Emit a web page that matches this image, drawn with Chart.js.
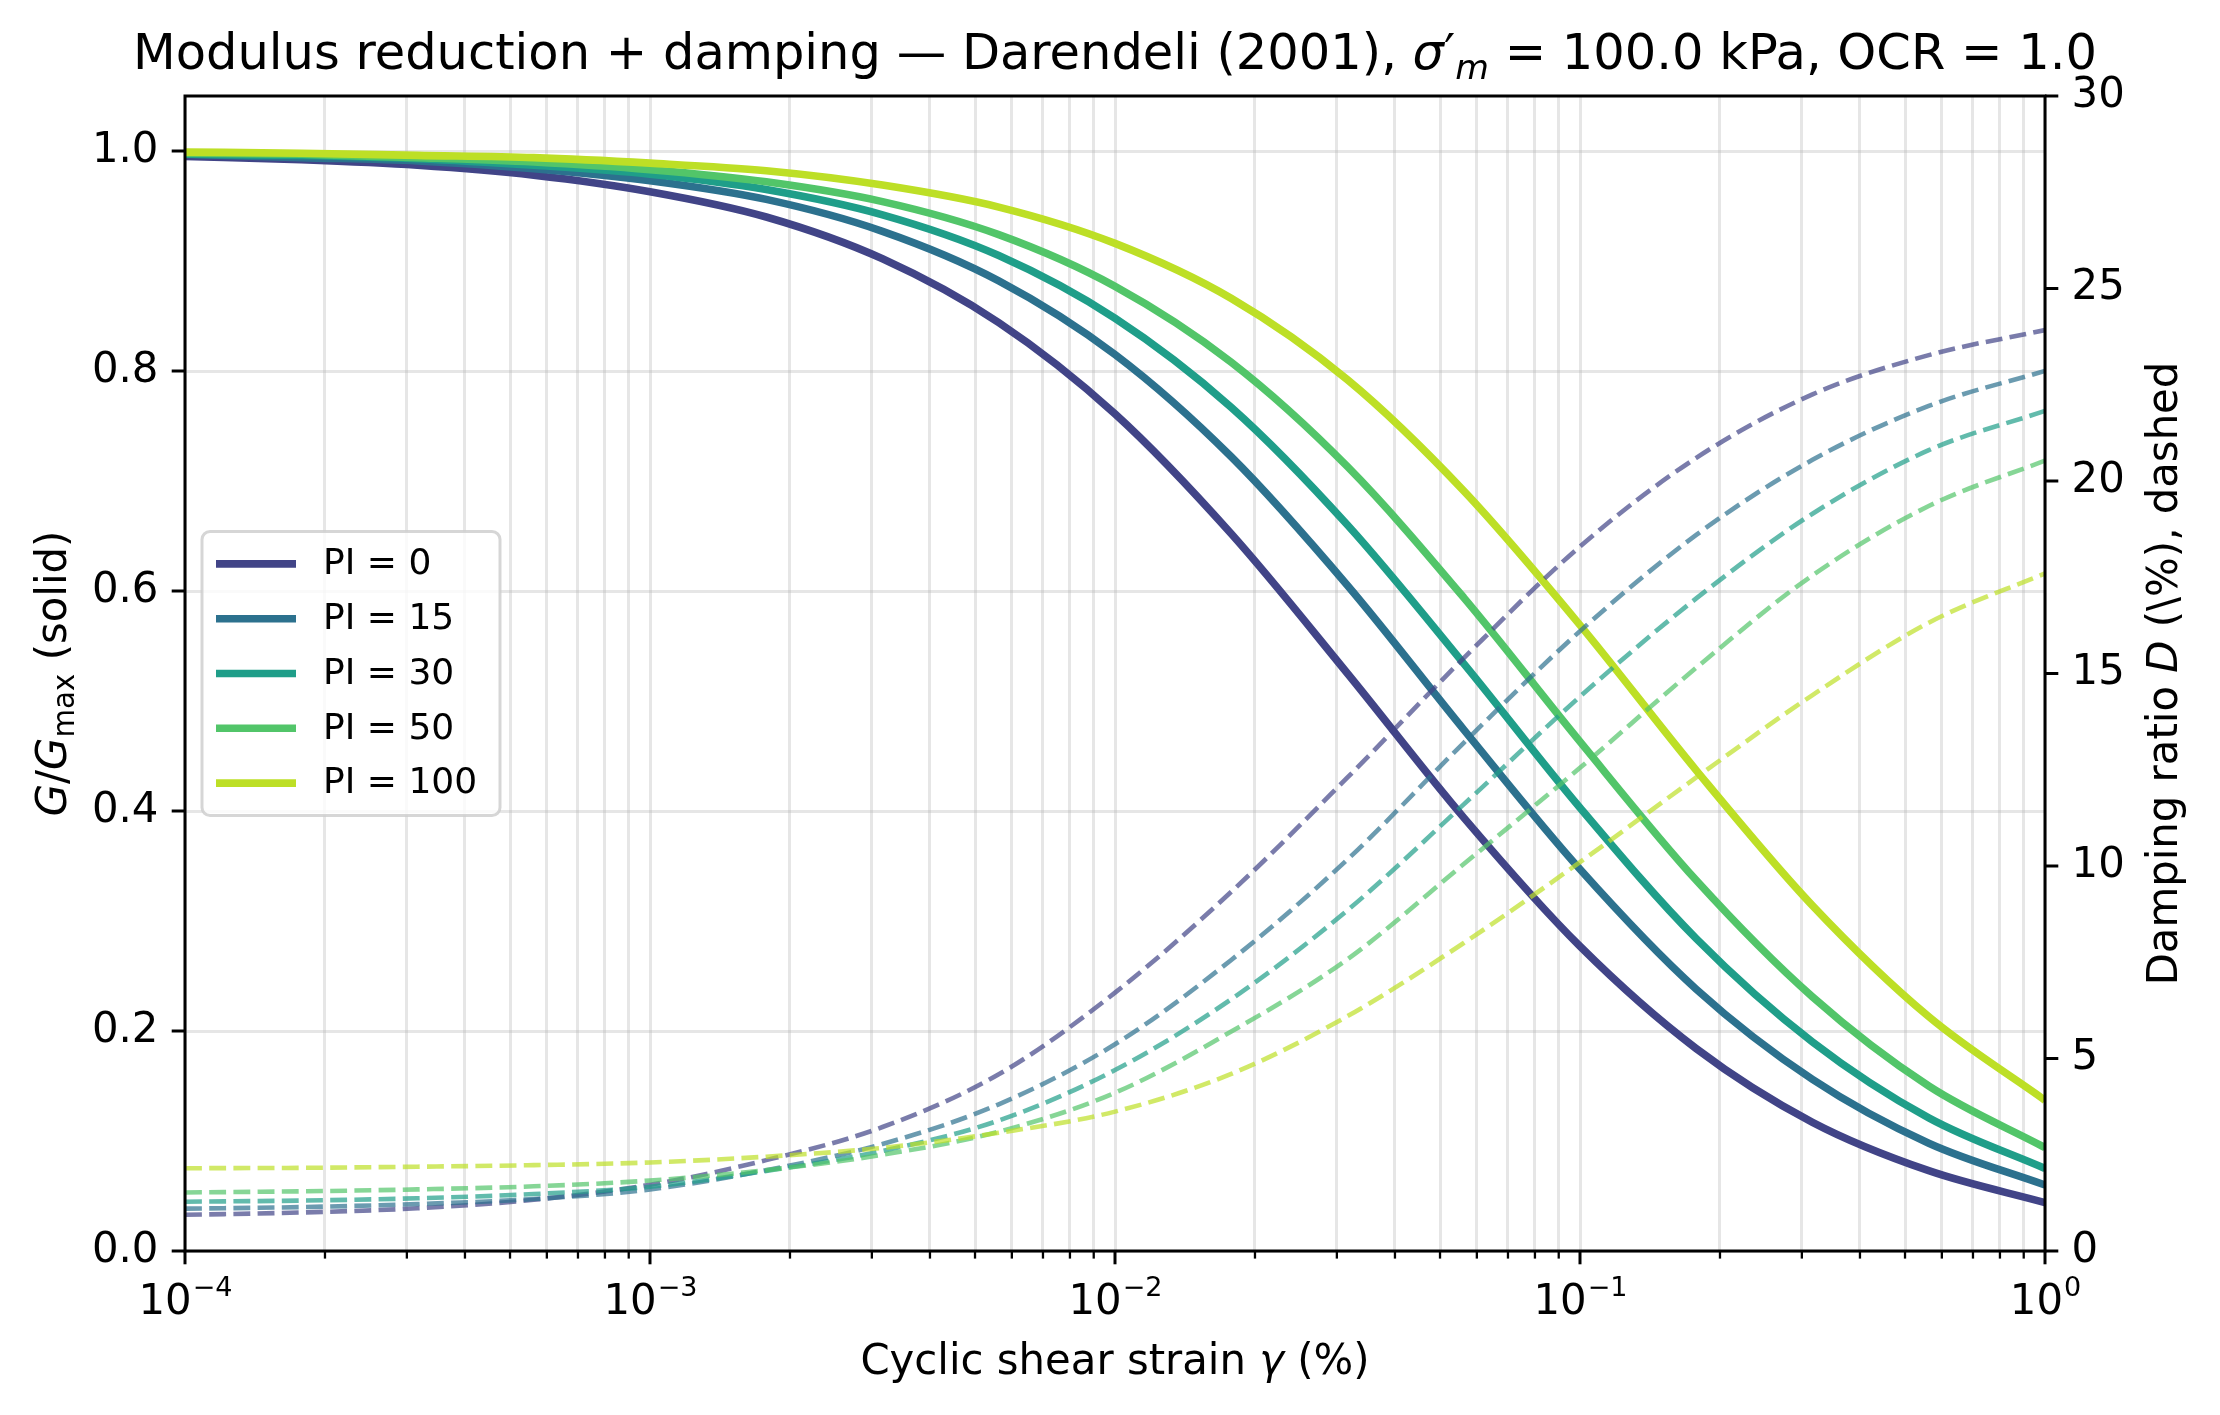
<!DOCTYPE html>
<html>
<head>
<meta charset="utf-8">
<script src="https://cdn.jsdelivr.net/npm/chart.js@4.4.0/dist/chart.umd.min.js"></script>
<style>
  html, body { margin: 0; padding: 0; background: #fff; }
  #wrap { width: 2220px; height: 1415px; }
</style>
</head>
<body>
<div id="wrap"><canvas id="chart" width="2220" height="1415"></canvas></div>
<script>
// cyclic shear strain (%), quarter-decade steps
const strain = [0.0001, 0.00017783, 0.00031623, 0.00056234, 0.001, 0.0017783, 0.0031623, 0.0056234,
  0.01, 0.017783, 0.031623, 0.056234, 0.1, 0.17783, 0.31623, 0.56234, 1];

const piLabels = ['PI = 0', 'PI = 15', 'PI = 30', 'PI = 50', 'PI = 100'];
const piColors = ['#414487', '#2c718e', '#1f9e89', '#52c569', '#bddf26'];

// G/Gmax (solid, left axis)
const ggmaxPI0   = [0.995, 0.992, 0.987, 0.978, 0.963, 0.940, 0.902, 0.844, 0.761, 0.652, 0.525, 0.394, 0.277, 0.184, 0.117, 0.073, 0.044];
const ggmaxPI15  = [0.997, 0.994, 0.991, 0.984, 0.973, 0.956, 0.927, 0.882, 0.815, 0.722, 0.605, 0.474, 0.347, 0.238, 0.156, 0.098, 0.060];
const ggmaxPI30  = [0.997, 0.996, 0.993, 0.987, 0.979, 0.965, 0.942, 0.905, 0.848, 0.767, 0.660, 0.534, 0.403, 0.284, 0.190, 0.121, 0.075];
const ggmaxPI50  = [0.998, 0.997, 0.994, 0.990, 0.983, 0.972, 0.954, 0.924, 0.877, 0.808, 0.713, 0.594, 0.463, 0.337, 0.231, 0.150, 0.094];
const ggmaxPI100 = [0.999, 0.998, 0.996, 0.994, 0.989, 0.982, 0.969, 0.949, 0.916, 0.866, 0.792, 0.691, 0.569, 0.437, 0.314, 0.213, 0.137];

// damping ratio D in % (dashed, right axis)
const dampPI0   = [0.94, 1.00, 1.11, 1.33, 1.72, 2.36, 3.22, 4.59, 6.71, 9.33, 12.30, 15.40, 18.30, 20.60, 22.25, 23.27, 23.92];
const dampPI15  = [1.10, 1.14, 1.22, 1.35, 1.60, 2.10, 2.78, 3.81, 5.37, 7.56, 10.17, 13.20, 16.10, 18.60, 20.55, 21.95, 22.86];
const dampPI30  = [1.28, 1.31, 1.37, 1.48, 1.67, 2.08, 2.60, 3.39, 4.70, 6.54, 8.85, 11.60, 14.40, 16.95, 19.15, 20.80, 21.82];
const dampPI50  = [1.52, 1.55, 1.60, 1.68, 1.83, 2.10, 2.50, 3.10, 4.11, 5.70, 7.58, 10.05, 12.55, 15.15, 17.55, 19.35, 20.53];
const dampPI100 = [2.15, 2.16, 2.19, 2.23, 2.30, 2.45, 2.68, 3.07, 3.62, 4.60, 6.10, 8.00, 10.10, 12.30, 14.44, 16.32, 17.60];

const xMajorTicks = [0.0001, 0.001, 0.01, 0.1, 1];
const xTickExp = ['\u22124', '\u22123', '\u22122', '\u22121', '0'];
const yLeftTicks = [0, 0.2, 0.4, 0.6, 0.8, 1.0];
const yRightTicks = [0, 5, 10, 15, 20, 25, 30];

const titleParts = [
  { t: 'Modulus reduction + damping \u2014 Darendeli (2001), ' },
  { t: '\u03c3', it: true },
  { t: '\u2032' },
  { t: 'm', it: true, sc: 0.7, dy: 0.2 },
  { t: ' = 100.0 kPa, OCR = 1.0' }
];
const xLabelParts = [{ t: 'Cyclic shear strain ' }, { t: '\u03b3', it: true }, { t: ' (%)' }];
const yLeftLabelParts = [{ t: 'G', it: true }, { t: '/' }, { t: 'G', it: true }, { t: 'max', sc: 0.7, dy: 0.2 }, { t: ' (solid)' }];
const yRightLabelParts = [{ t: 'Damping ratio ' }, { t: 'D', it: true }, { t: ' (\\%), dashed' }];

const FAMILY = '"DejaVu Sans", sans-serif';

// all log ticks (1..9 per decade) for grid and minor ticks
const xAllTicks = [];
for (let d = 0; d < xMajorTicks.length - 1; d++) {
  for (let m = 1; m < 10; m++) xAllTicks.push(+(xMajorTicks[d] * m).toPrecision(3));
}
xAllTicks.push(xMajorTicks[xMajorTicks.length - 1]);

function hexA(hex, a) {
  const n = parseInt(hex.slice(1), 16);
  return `rgba(${(n >> 16) & 255},${(n >> 8) & 255},${n & 255},${a})`;
}

function partFont(p, size) {
  return (p.it ? 'italic ' : '') + (size * (p.sc || 1)).toFixed(1) + 'px ' + FAMILY;
}

function drawRich(ctx, parts, cx, baseline, size) {
  let w = 0;
  parts.forEach(p => { ctx.font = partFont(p, size); w += ctx.measureText(p.t).width; });
  let x = cx - w / 2;
  ctx.textAlign = 'left';
  ctx.textBaseline = 'alphabetic';
  parts.forEach(p => {
    ctx.font = partFont(p, size);
    ctx.fillText(p.t, x, baseline + (p.dy || 0) * size);
    x += ctx.measureText(p.t).width;
  });
}

const ggmaxSeries = [ggmaxPI0, ggmaxPI15, ggmaxPI30, ggmaxPI50, ggmaxPI100];
const dampSeries = [dampPI0, dampPI15, dampPI30, dampPI50, dampPI100];

const datasets = [];
piLabels.forEach((lab, i) => {
  datasets.push({
    label: lab,
    data: strain.map((s, k) => ({ x: s, y: ggmaxSeries[i][k] })),
    yAxisID: 'y',
    borderColor: piColors[i],
    borderWidth: 7.6,
    pointRadius: 0,
    fill: false,
    cubicInterpolationMode: 'monotone',
    order: 10 - i
  });
});
piLabels.forEach((lab, i) => {
  datasets.push({
    label: lab + ' D',
    data: strain.map((s, k) => ({ x: s, y: dampSeries[i][k] })),
    yAxisID: 'y2',
    borderColor: hexA(piColors[i], 0.7),
    borderWidth: 4.6,
    borderDash: [16.9, 7.3],
    pointRadius: 0,
    fill: false,
    cubicInterpolationMode: 'monotone',
    order: 5 - i
  });
});

const decor = {
  id: 'decor',
  afterDraw(chart) {
    const ctx = chart.ctx;
    const { left, right, top, bottom } = chart.chartArea;
    const xs = chart.scales.x, yl = chart.scales.y, yr = chart.scales.y2;
    ctx.save();
    ctx.strokeStyle = '#000';
    ctx.fillStyle = '#000';
    ctx.lineCap = 'butt';
    const seg = (x1, y1, x2, y2) => { ctx.beginPath(); ctx.moveTo(x1, y1); ctx.lineTo(x2, y2); ctx.stroke(); };

    // x ticks
    xAllTicks.forEach(v => {
      const px = xs.getPixelForValue(v);
      const major = xMajorTicks.includes(v);
      ctx.lineWidth = major ? 3 : 2.3;
      seg(px, bottom, px, bottom + (major ? 13.3 : 7.6));
    });
    ctx.lineWidth = 3;
    yLeftTicks.forEach(v => { const py = yl.getPixelForValue(v); seg(left - 13.3, py, left, py); });
    yRightTicks.forEach(v => { const py = yr.getPixelForValue(v); seg(right, py, right + 13.3, py); });

    // spines
    ctx.lineWidth = 3;
    ctx.strokeRect(left, top, right - left, bottom - top);

    // x tick labels 10^n
    xMajorTicks.forEach((v, i) => {
      const px = xs.getPixelForValue(v);
      const big = 41.8, small = 27;
      ctx.font = big + 'px ' + FAMILY;
      const w1 = ctx.measureText('10').width;
      ctx.font = small + 'px ' + FAMILY;
      const w2 = ctx.measureText(xTickExp[i]).width;
      const x0 = px - (w1 + w2) / 2;
      ctx.textAlign = 'left';
      ctx.textBaseline = 'alphabetic';
      ctx.font = big + 'px ' + FAMILY;
      ctx.fillText('10', x0, 1314);
      ctx.font = small + 'px ' + FAMILY;
      ctx.fillText(xTickExp[i], x0 + w1 + 1, 1296);
    });

    // title and axis labels
    drawRich(ctx, titleParts, (left + right) / 2, 69, 49.5);
    drawRich(ctx, xLabelParts, (left + right) / 2, 1374, 41.8);
    const cy = (top + bottom) / 2;
    ctx.save();
    ctx.translate(66, cy);
    ctx.rotate(-Math.PI / 2);
    drawRich(ctx, yLeftLabelParts, 0, 0, 41.8);
    ctx.restore();
    ctx.save();
    ctx.translate(2177, cy);
    ctx.rotate(-Math.PI / 2);
    drawRich(ctx, yRightLabelParts, 0, 0, 41.8);
    ctx.restore();

    // legend (center left)
    const bx = 202, bw = 298, bh = 284, by = cy - bh / 2, r = 8;
    ctx.beginPath();
    ctx.moveTo(bx + r, by);
    ctx.arcTo(bx + bw, by, bx + bw, by + bh, r);
    ctx.arcTo(bx + bw, by + bh, bx, by + bh, r);
    ctx.arcTo(bx, by + bh, bx, by, r);
    ctx.arcTo(bx, by, bx + bw, by, r);
    ctx.closePath();
    ctx.fillStyle = 'rgba(255,255,255,0.8)';
    ctx.fill();
    ctx.strokeStyle = 'rgba(204,204,204,0.8)';
    ctx.lineWidth = 3;
    ctx.stroke();
    ctx.font = '36px ' + FAMILY;
    ctx.textAlign = 'left';
    ctx.textBaseline = 'middle';
    piLabels.forEach((lab, i) => {
      const ry = cy + (i - 2) * 54.8;
      ctx.strokeStyle = piColors[i];
      ctx.lineWidth = 7.6;
      seg(216, ry, 296, ry);
      ctx.fillStyle = '#000';
      ctx.fillText(lab, 323, ry + 1);
    });
    ctx.restore();
  }
};

const gridColor = 'rgba(176,176,176,0.32)';

new Chart(document.getElementById('chart'), {
  type: 'line',
  data: { datasets },
  options: {
    responsive: false,
    animation: false,
    devicePixelRatio: 1,
    layout: { padding: { top: 96, left: 0, right: 0, bottom: 0 } },
    plugins: { legend: { display: false }, title: { display: false }, tooltip: { enabled: false } },
    scales: {
      x: {
        type: 'logarithmic',
        position: 'bottom',
        min: 0.0001,
        max: 1,
        afterBuildTicks: s => { s.ticks = xAllTicks.map(v => ({ value: v })); },
        ticks: { display: false },
        grid: { color: gridColor, lineWidth: 3, drawTicks: false },
        border: { display: false },
        afterFit: s => { s.height = 164; s.paddingLeft = 0; s.paddingRight = 0; }
      },
      y: {
        position: 'left',
        min: 0,
        max: 1.05,
        afterBuildTicks: s => { s.ticks = yLeftTicks.map(v => ({ value: v })); },
        ticks: {
          color: '#000',
          font: { family: FAMILY, size: 41.8 },
          padding: 26.6,
          callback: v => Number(v).toFixed(1)
        },
        grid: { color: gridColor, lineWidth: 3, drawTicks: false },
        border: { display: false },
        afterFit: s => { s.width = 185; s.paddingTop = 0; s.paddingBottom = 0; }
      },
      y2: {
        position: 'right',
        min: 0,
        max: 30,
        afterBuildTicks: s => { s.ticks = yRightTicks.map(v => ({ value: v })); },
        ticks: {
          color: '#000',
          font: { family: FAMILY, size: 41.8 },
          padding: 26.6,
          callback: v => String(v)
        },
        grid: { display: false, drawTicks: false },
        border: { display: false },
        afterFit: s => { s.width = 175; s.paddingTop = 0; s.paddingBottom = 0; }
      }
    }
  },
  plugins: [decor]
});
</script>
</body>
</html>
